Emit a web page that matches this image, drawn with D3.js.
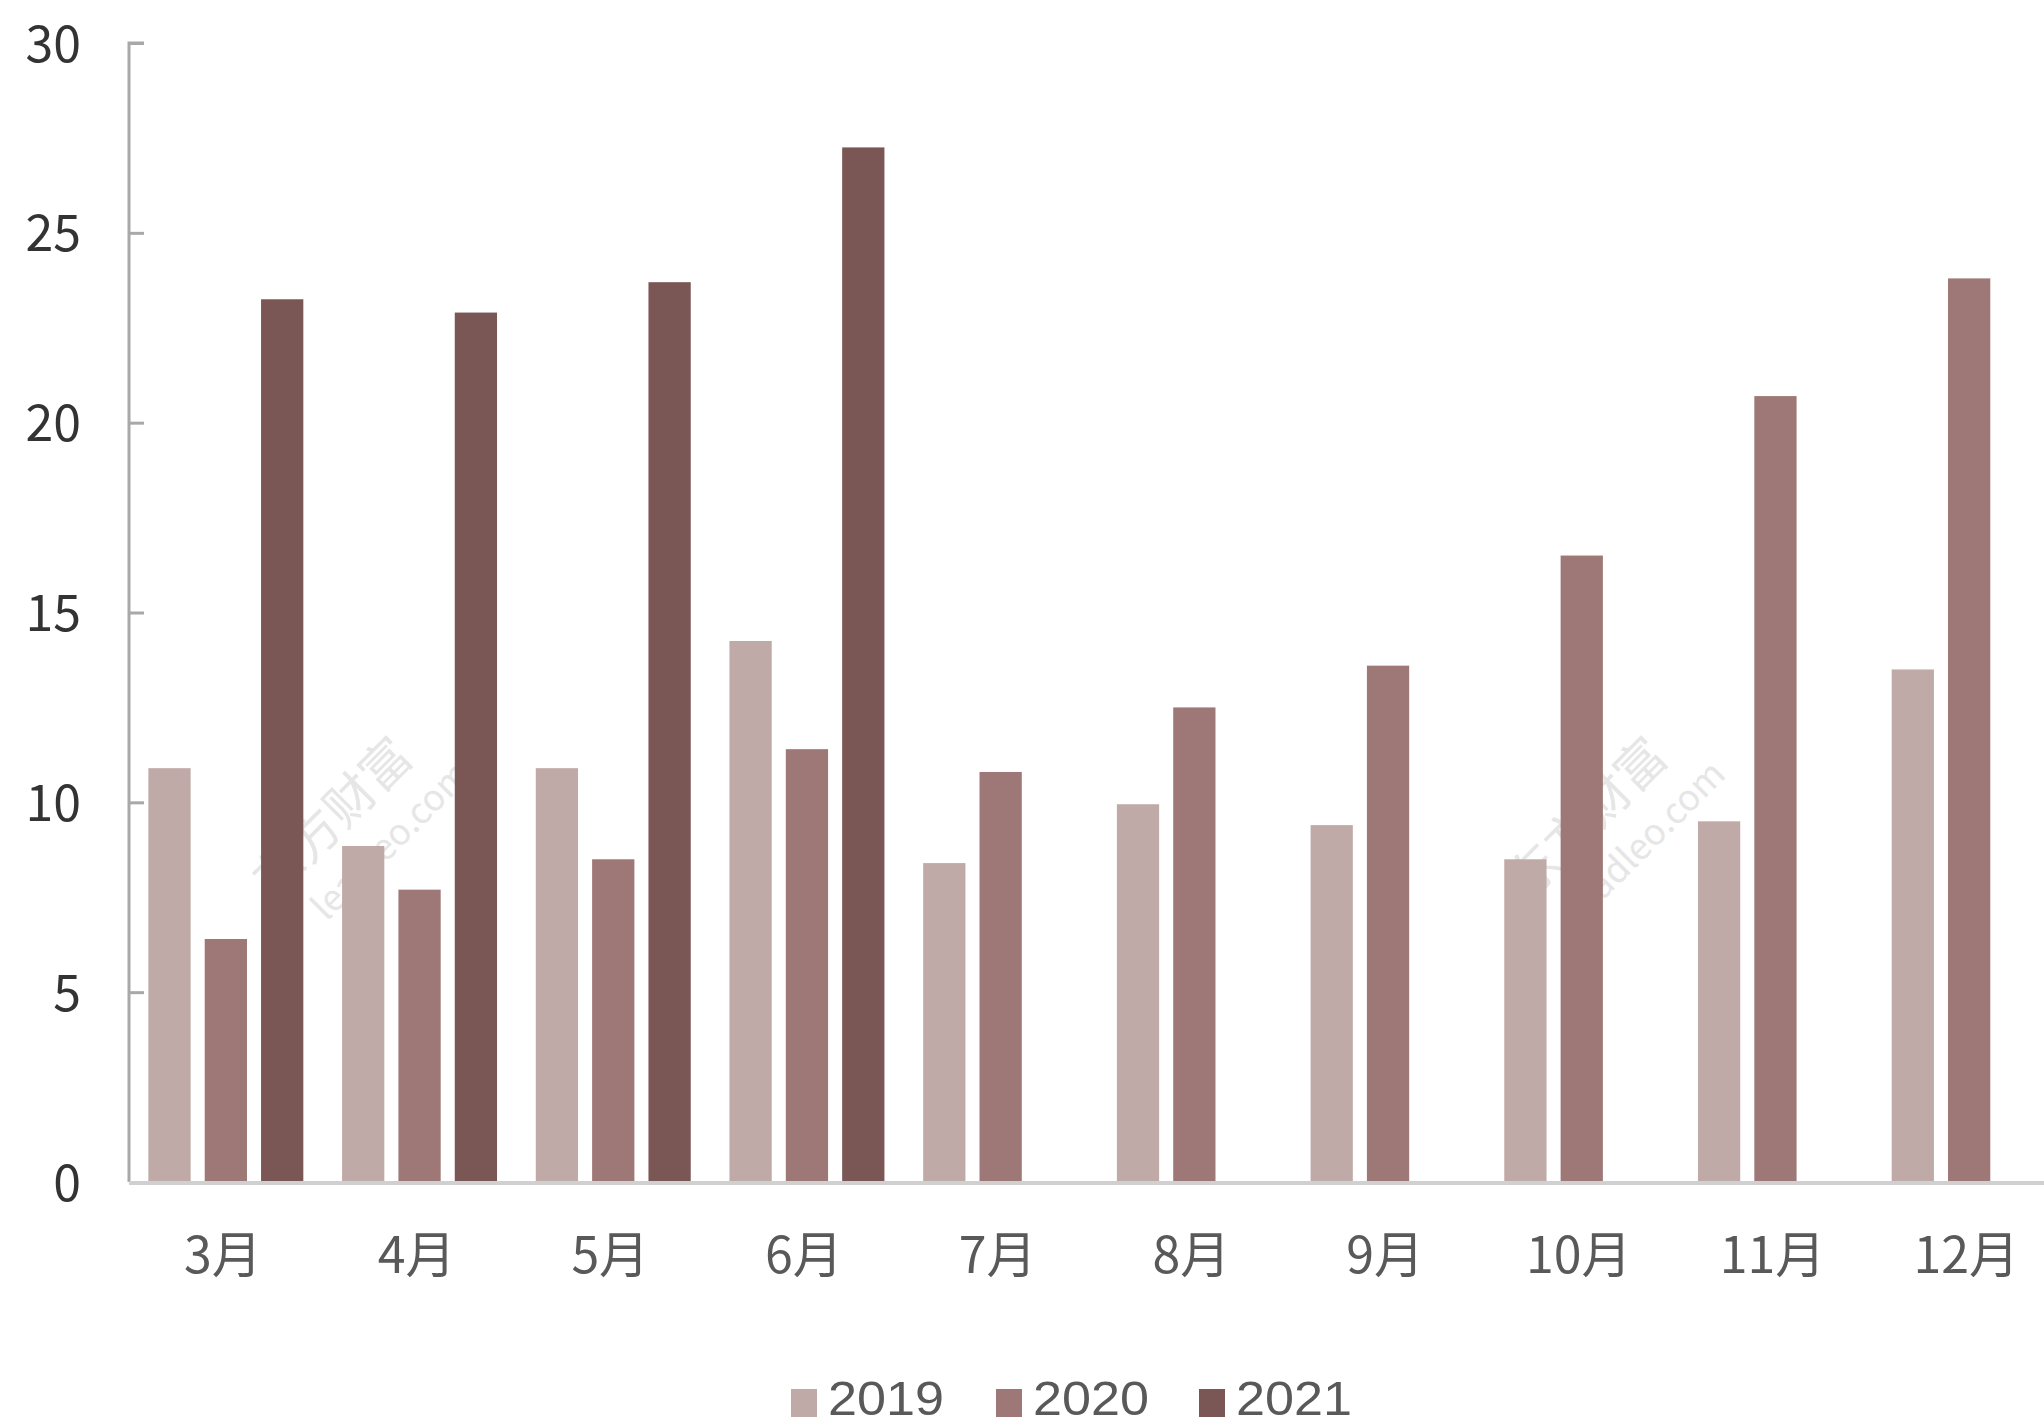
<!DOCTYPE html>
<html>
<head>
<meta charset="utf-8">
<script src="https://cdn.jsdelivr.net/npm/d3@7"></script>
<style>
  body { margin: 0; background: #fff; }
  svg text { font-family: "Noto Sans CJK SC", "Noto Sans", sans-serif; }
  svg text.legend-label { font-family: "Liberation Sans", "Noto Sans", sans-serif; }
</style>
</head>
<body>
<div id="chart"></div>
<script>
// data
const months = ['3月', '4月', '5月', '6月', '7月', '8月', '9月', '10月', '11月', '12月'];
const seriesNames = ['2019', '2020', '2021'];
const values2019 = [10.9, 8.85, 10.9, 14.25, 8.4, 9.95, 9.4, 8.5, 9.5, 13.5];
const values2020 = [6.4, 7.7, 8.5, 11.4, 10.8, 12.5, 13.6, 16.5, 20.7, 23.8];
const values2021 = [23.25, 22.9, 23.7, 27.25, null, null, null, null, null, null];
const yTicks = [0, 5, 10, 15, 20, 25, 30];
const colors = ['#c0aaa8', '#9e7876', '#7a5655'];

const width = 2044, height = 1426;
const allSeries = [values2019, values2020, values2021];

const svg = d3.select('#chart').append('svg')
    .attr('width', width)
    .attr('height', height);

const x0 = d3.scaleBand()
    .domain(months)
    .range([129, 2066])
    .paddingInner(0.2)
    .paddingOuter(0.1);

const x1 = d3.scaleBand()
    .domain(seriesNames)
    .range([0, x0.bandwidth()])
    .paddingInner(0.25);

const y = d3.scaleLinear()
    .domain([0, 30])
    .range([1182, 43]);

// watermark
[[345, 830], [1600, 830]].forEach(([wx, wy]) => {
    const g = svg.append('g')
        .attr('transform', `translate(${wx},${wy}) rotate(-45)`)
        .attr('fill', '#e6e6e6');
    g.append('text').attr('x', 0).attr('y', 0)
        .attr('text-anchor', 'middle')
        .style('font-size', '50px')
        .text('东方财富');
    g.append('text').attr('x', 25).attr('y', 52)
        .attr('text-anchor', 'middle')
        .style('font-size', '36px')
        .text('leadleo.com');
});

// bars
const rows = months.map((m, i) => ({
    month: m,
    vals: seriesNames.map((s, j) => ({key: s, value: allSeries[j][i], color: colors[j]}))
        .filter(d => d.value != null)
}));

svg.append('g').selectAll('g')
    .data(rows)
    .join('g')
    .attr('transform', d => `translate(${x0(d.month)},0)`)
    .selectAll('rect')
    .data(d => d.vals)
    .join('rect')
    .attr('x', d => x1(d.key))
    .attr('y', d => y(d.value))
    .attr('width', x1.bandwidth())
    .attr('height', d => y(0) - y(d.value))
    .attr('fill', d => d.color);

// y axis
const yAxis = svg.append('g')
    .attr('transform', 'translate(129,0)')
    .call(d3.axisRight(y).tickValues(yTicks).tickSize(15).tickFormat(d3.format('d')));
yAxis.select('.domain').attr('stroke', '#a8a8a8').attr('stroke-width', 3)
    .attr('d', `M15,${y(30)}H0V${y(0)}`);
yAxis.selectAll('.tick line').attr('stroke', '#a8a8a8').attr('stroke-width', 3);
yAxis.selectAll('.tick text')
    .attr('x', -48)
    .attr('text-anchor', 'end')
    .attr('dy', '0.36em')
    .attr('fill', '#333')
    .style('font-size', '50px');

// x axis line
svg.append('line')
    .attr('x1', 129).attr('x2', width)
    .attr('y1', y(0) + 1).attr('y2', y(0) + 1)
    .attr('stroke', '#d0d0d0')
    .attr('stroke-width', 4);

// month labels
svg.append('g').selectAll('text')
    .data(months)
    .join('text')
    .attr('x', d => x0(d) + x0.bandwidth() / 2 - 3)
    .attr('y', 1273)
    .attr('text-anchor', 'middle')
    .attr('fill', '#595959')
    .style('font-size', '50px')
    .text(d => d);

// legend
const legendX = [791, 996, 1199];
const legend = svg.append('g').selectAll('g')
    .data(seriesNames)
    .join('g')
    .attr('transform', (d, i) => `translate(${legendX[i]},1389)`);
legend.append('rect')
    .attr('width', 26).attr('height', 28)
    .attr('fill', (d, i) => colors[i]);
legend.append('text')
    .attr('class', 'legend-label')
    .attr('x', 37).attr('y', 26)
    .attr('fill', '#595959')
    .style('font-size', '48px')
    .attr('textLength', 116)
    .attr('lengthAdjust', 'spacingAndGlyphs')
    .text(d => d);
</script>
</body>
</html>
